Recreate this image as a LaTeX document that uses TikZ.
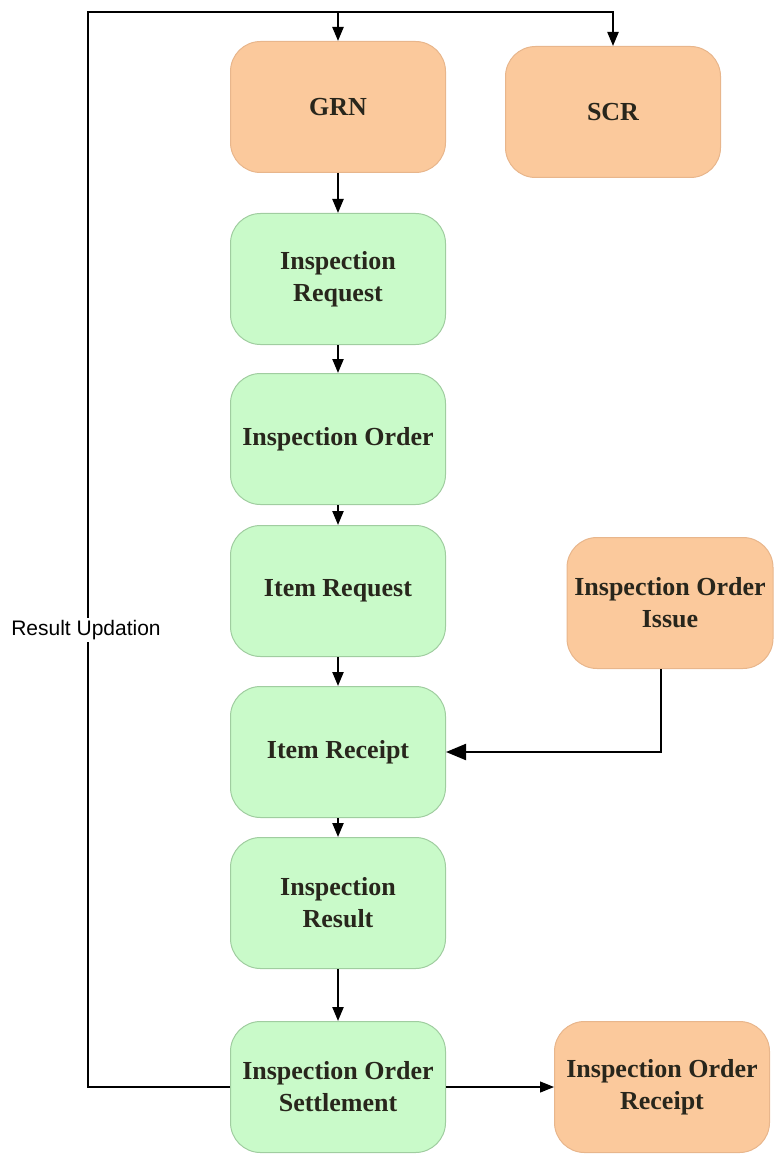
\documentclass[tikz,border=0pt]{standalone}
\usepackage{fontspec}
\setmainfont{Liberation Serif}
\setsansfont{Liberation Sans}
\usetikzlibrary{calc, arrows.meta}

\definecolor{orangebox}{RGB}{251,201,156}
\definecolor{orangeline}{RGB}{232,182,140}
\definecolor{greenbox}{RGB}{201,250,201}
\definecolor{greenline}{RGB}{160,205,160}
\definecolor{boxtext}{RGB}{40,38,28}

\tikzset{
    stepnode/.style={rounded corners=15pt, minimum width=107.5pt, minimum height=65.5pt,
        align=center, text=boxtext, font=\fontsize{13}{16}\selectfont\bfseries},
    greennode/.style={stepnode, fill=greenbox, draw=greenline, line width=0.5pt},
    orangenode/.style={stepnode, fill=orangebox, draw=orangeline, line width=0.5pt},
    flow/.style={line width=1.1pt, -{Triangle[length=7pt, width=5.5pt]}},
    bigflow/.style={line width=1.1pt, -{Triangle[length=10pt, width=8pt]}},
    thinflow/.style={line width=0.6pt, -{Triangle[length=7pt, width=5.5pt]}}
}

\begin{document}
\begin{tikzpicture}[x=0.5pt, y=-0.5pt]
                \useasboundingbox (0,0) rectangle (773,1155);
                % main column
                \node[orangenode] (grn) at (338,107) {GRN};
                \node[orangenode] (scr) at (613,112) {SCR};
                \node[greennode] (insreq) at (338,279) {Inspection\\Request};
                \node[greennode] (insord) at (338,439) {Inspection Order};
                \node[greennode] (itemreq) at (338,591) {Item Request};
                \node[greennode] (itemrcpt) at (338,752) {Item Receipt};
                \node[greennode] (insres) at (338,903) {Inspection\\Result};
                \node[greennode] (settle) at (338,1087) {Inspection Order\\Settlement};
                % side boxes
                \node[orangenode, minimum width=103pt] (ordissue) at (670,603) {Inspection Order\\Issue};
                \node[orangenode] (ordrcpt) at (662,1087) {Inspection Order\\Receipt};

                \foreach \a/\b in {grn/insreq, insreq/insord, insord/itemreq, itemreq/itemrcpt, itemrcpt/insres, insres/settle}{
                    \draw[flow] (\a.south) -- (\b.north);
                }

                % result updation loop
                \coordinate (topleft) at (88,12);
                \coordinate (topright) at (scr.north |- topleft);
                \draw[flow] (settle.west) -| (topleft) -- (topright) -- (scr.north);
                \draw[flow] (grn.north |- topleft) -- (grn.north);
                \node[fill=white, inner sep=1pt, font=\sffamily\fontsize{10.5}{12}\selectfont] (upd) at (86,630) {Result Updation};

                \draw[bigflow] (ordissue.south -| 661,0) |- (itemrcpt.east);
                \draw[thinflow] (settle.east) -- (ordrcpt.west);
            \end{tikzpicture}
\end{document}
